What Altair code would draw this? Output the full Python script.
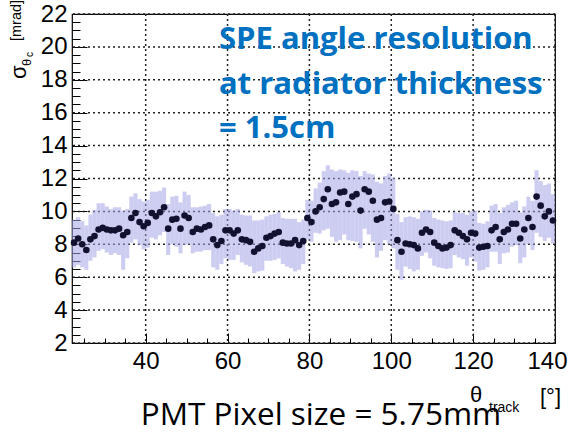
import altair as alt
import pandas as pd

# bin lower edges of theta_track [deg]
theta_low = [22, 23, 24, 25, 26, 27, 28, 29, 30, 31,
             32, 33, 34, 35, 36, 37, 38, 39, 40, 41,
             42, 43, 44, 45, 46, 47, 48, 49, 50, 51,
             52, 53, 54, 55, 56, 57, 58, 59, 60, 61,
             62, 63, 64, 65, 66, 67, 68, 69, 70, 71,
             72, 73, 74, 75, 76, 77, 78, 79, 80, 81,
             82, 83, 84, 85, 86, 87, 88, 89, 90, 91,
             92, 93, 94, 95, 96, 97, 98, 99, 100, 101,
             102, 103, 104, 105, 106, 107, 108, 109, 110, 111,
             112, 113, 114, 115, 116, 117, 118, 119, 120, 121,
             122, 123, 124, 125, 126, 127, 128, 129, 130, 131,
             132, 133, 134, 135, 136, 137, 138, 139]

sigma = [8.1, 8.35, 8.0, 7.65, 8.3, 8.5, 8.9, 9.0, 8.9, 8.85,
         8.85, 8.95, 8.55, 8.75, 9.6, 9.9, 9.35, 9.1, 9.3, 9.9,
         9.7, 9.95, 10.25, 8.95, 9.5, 9.55, 8.95, 9.75, 9.6, 8.75,
         8.95, 8.9, 9.05, 9.15, 8.3, 7.95, 8.2, 8.85, 8.85, 8.65,
         8.85, 8.3, 8.25, 8.15, 7.55, 7.75, 7.9, 8.4, 8.5, 8.65,
         8.75, 8.1, 8.05, 8.05, 8.25, 7.95, 8.2, 9.6, 9.35, 10.0,
         10.25, 10.75, 11.35, 10.45, 10.55, 11.15, 11.2, 10.45, 10.9, 11.05,
         10.05, 11.35, 11.2, 10.65, 9.5, 9.6, 10.55, 10.6, 10.15, 8.25,
         7.55, 8.05, 8.0, 7.95, 7.75, 8.7, 8.9, 8.75, 8.1, 7.9,
         7.75, 7.8, 7.95, 8.85, 8.7, 8.5, 8.3, 8.7, 8.65, 7.8,
         7.85, 7.9, 8.85, 9.05, 8.3, 8.75, 8.9, 9.25, 9.25, 8.35,
         8.9, 9.6, 9.05, 10.9, 10.35, 9.7, 10.0, 9.45]

err_hi = [1.4, 1.3, 1.4, 1.5, 1.5, 1.6, 1.6, 1.5, 1.4, 1.3,
          1.4, 1.3, 1.5, 1.4, 1.3, 1.2, 1.4, 1.5, 1.4, 1.3,
          1.5, 1.3, 1.2, 1.5, 1.4, 1.4, 1.6, 1.45, 1.4, 1.5,
          1.3, 1.4, 1.3, 1.3, 1.6, 1.75, 1.6, 1.3, 1.3, 1.4,
          1.3, 1.5, 1.5, 1.6, 1.9, 1.7, 1.6, 1.3, 1.3, 1.2,
          1.2, 1.5, 1.5, 1.5, 1.3, 1.4, 1.3, 1.1, 1.3, 1.4,
          1.5, 1.7, 1.45, 2.1, 1.9, 1.4, 1.3, 1.9, 1.6, 1.4,
          2.1, 1.1, 1.1, 1.6, 2.3, 2.1, 1.6, 1.7, 1.9, 1.6,
          1.8, 1.6, 1.7, 1.7, 1.8, 1.3, 1.2, 1.3, 1.5, 1.6,
          1.7, 1.6, 1.5, 1.1, 1.2, 1.4, 1.5, 1.3, 1.4, 1.5,
          1.4, 1.5, 1.5, 1.4, 1.6, 1.5, 1.5, 1.3, 1.4, 1.6,
          1.4, 1.3, 1.6, 1.6, 1.5, 1.9, 1.7, 1.6]

err_lo = [1.5, 1.6, 1.4, 1.2, 1.3, 1.3, 1.3, 1.3, 1.4, 1.5,
          1.4, 1.6, 2.1, 1.6, 1.5, 1.6, 1.4, 1.4, 1.5, 1.5,
          1.4, 1.4, 1.5, 1.6, 1.5, 1.7, 1.5, 1.8, 1.6, 1.3,
          1.4, 1.35, 1.4, 1.5, 1.7, 1.5, 1.4, 1.7, 1.8, 1.6,
          1.5, 1.4, 1.5, 1.5, 1.3, 1.4, 1.5, 1.4, 1.5, 1.6,
          1.6, 1.3, 1.4, 1.5, 1.9, 1.5, 1.4, 1.3, 1.2, 1.3,
          1.6, 1.9, 2.4, 2.0, 2.4, 2.9, 2.6, 2.2, 2.7, 2.9,
          2.3, 2.4, 2.6, 2.5, 2.3, 2.0, 2.3, 2.6, 2.4, 1.8,
          1.7, 1.4, 1.5, 1.6, 1.3, 1.4, 1.4, 1.6, 1.4, 1.3,
          1.2, 1.3, 1.4, 1.5, 1.5, 1.4, 1.6, 1.5, 1.7, 1.4,
          1.4, 1.3, 1.3, 1.5, 1.5, 1.3, 1.4, 1.4, 1.3, 1.5,
          1.7, 1.6, 1.4, 2.2, 1.9, 1.5, 1.6, 1.4]

x_major = [40, 60, 80, 100, 120, 140]
x_ticks = [25, 30, 35, 40, 45, 50, 55, 60, 65, 70, 75, 80, 85, 90, 95, 100,
           105, 110, 115, 120, 125, 130, 135, 140]
y_major = [2, 4, 6, 8, 10, 12, 14, 16, 18, 20, 22]
y_ticks = [2, 2.5, 3, 3.5, 4, 4.5, 5, 5.5, 6, 6.5, 7, 7.5, 8, 8.5, 9, 9.5,
           10, 10.5, 11, 11.5, 12, 12.5, 13, 13.5, 14, 14.5, 15, 15.5, 16,
           16.5, 17, 17.5, 18, 18.5, 19, 19.5, 20, 20.5, 21, 21.5, 22]

note_lines = ["SPE angle resolution", "at radiator thickness", "= 1.5cm"]
footer = "PMT Pixel size = 5.75mm"

df = pd.DataFrame({
    "x0": theta_low,
    "sigma": sigma,
})
df["x1"] = df["x0"] + 1
df["xc"] = df["x0"] + 0.5
df["lo"] = df["sigma"] - pd.Series(err_lo)
df["hi"] = df["sigma"] + pd.Series(err_hi)

W, H = 483, 329
LEFT, TOP = 72, 14
xs = alt.Scale(domain=[22, 140], nice=False, zero=False)
ys = alt.Scale(domain=[2, 22], nice=False, zero=False)
FONT = "Liberation Sans"

# dotted grid at the major ticks
gx = alt.Chart(pd.DataFrame({"gx": x_major})).mark_rule(
    color="#222222", strokeDash=[2, 3], strokeWidth=1.5
).encode(x=alt.X("gx:Q", scale=xs, axis=None))
gy = alt.Chart(pd.DataFrame({"gy": y_major})).mark_rule(
    color="#222222", strokeDash=[2, 3], strokeWidth=1.5
).encode(y=alt.Y("gy:Q", scale=ys, axis=None))

band = alt.Chart(df).mark_rect(color="#a4a4e8", opacity=0.55).encode(
    x=alt.X("x0:Q", scale=xs, axis=alt.Axis(
        orient="bottom", values=x_major, title=None, ticks=False, tickSize=0,
        domain=False, grid=False, labelFont=FONT, labelFontSize=24,
        labelColor="#000000", labelPadding=6, labelFlush=False,
        labelOffset={"condition": {"test": "datum.value >= 140", "value": -8}, "value": 0},
    )),
    x2="x1:Q",
    y=alt.Y("lo:Q", scale=ys, axis=alt.Axis(
        orient="left", values=y_major, title=None, ticks=False, tickSize=0,
        domain=False, grid=False, labelFont=FONT, labelFontSize=24,
        labelColor="#000000", labelPadding=5,
    )),
    y2="hi:Q",
)

points = alt.Chart(df).mark_circle(size=44, color="#121230", opacity=1).encode(
    x=alt.X("xc:Q", scale=xs, axis=alt.Axis(
        orient="top", offset=-H, values=x_ticks, title=None, labels=False,
        domain=False, grid=False, tickColor="#000000", tickWidth=1,
        tickSize={"condition": {"test": "datum.value % 20 === 0", "value": 10}, "value": 5},
    )),
    y=alt.Y("sigma:Q", scale=ys, axis=alt.Axis(
        orient="right", offset=-W, values=y_ticks, title=None, labels=False,
        domain=False, grid=False, tickColor="#000000", tickWidth=1,
        tickSize={"condition": {"test": "datum.value % 2 === 0", "value": 15}, "value": 8},
    )),
)

one = pd.DataFrame({"k": [0]})


def txt(s, px, py, **kw):
    return alt.Chart(one).mark_text(**kw).encode(
        x=alt.value(px - LEFT), y=alt.value(py - TOP), text=alt.value(s))


note = txt(note_lines, 219, 49, font="Open Sans", fontWeight="bold", fontSize=31,
           color="#0070C0", align="left", baseline="alphabetic", lineHeight=44.5)
foot = txt(footer, 321, 425, font="Open Sans", fontSize=31.5, color="#000000",
           align="center", baseline="alphabetic")

xt1 = txt("θ", 470, 402, font=FONT, fontSize=22, align="left", baseline="alphabetic")
xt2 = txt("track", 489, 412, font=FONT, fontSize=14, align="left", baseline="alphabetic")
xt3 = txt("[°]", 540, 404, font=FONT, fontSize=22, align="left", baseline="alphabetic")

yt1 = txt("σ", 26, 79, font=FONT, fontSize=22, angle=270, align="left", baseline="alphabetic")
yt2 = txt("θ", 31, 66, font=FONT, fontSize=13, angle=270, align="left", baseline="alphabetic")
yt3 = txt("c", 33, 57, font=FONT, fontSize=10, angle=270, align="left", baseline="alphabetic")
yt4 = txt("[mrad]", 21, 41, font=FONT, fontSize=14.5, angle=270, align="left", baseline="alphabetic")

chart = alt.layer(gx, gy, band, points, note, foot, xt1, xt2, xt3,
                  yt1, yt2, yt3, yt4).resolve_axis(
    x="independent", y="independent"
).properties(
    width=W, height=H,
    autosize=alt.AutoSizeParams(type="none"),
    padding={"left": LEFT, "top": TOP, "right": 580 - LEFT - W, "bottom": 433 - TOP - H},
    background="#ffffff",
).configure_view(stroke="#000000", strokeWidth=1.2)

chart.save("out.html", embed_options={"renderer": "svg", "actions": False})
